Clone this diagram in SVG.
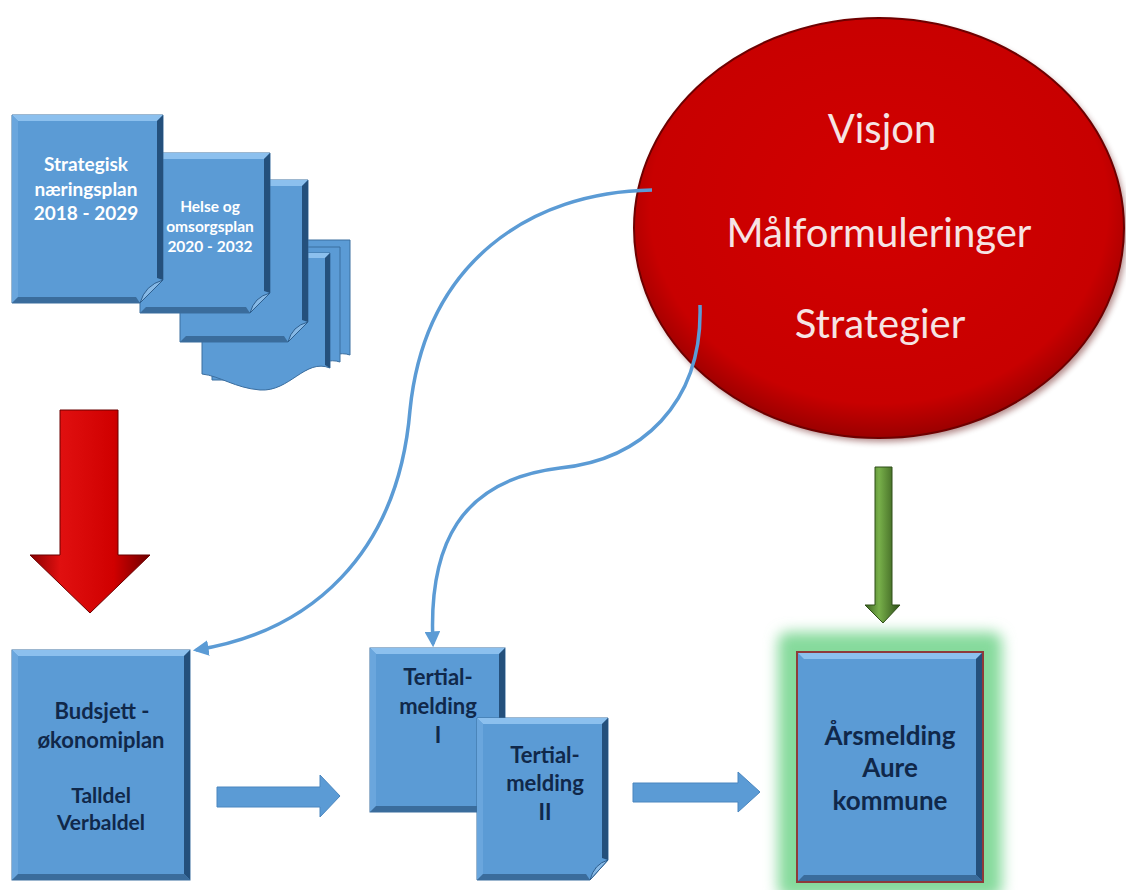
<svg xmlns="http://www.w3.org/2000/svg" width="1126" height="890" viewBox="0 0 1126 890">
<defs>
<style>
.base{fill:#5b9bd5;stroke:#3b6e9f;stroke-width:1}
.bt{fill:#8cc0ee}
.bl{fill:#6aa6dd}
.br{fill:#24507c}
.bb{fill:#3a6c9c}
.flap{fill:#87b9e6;stroke:#2d5e8e;stroke-width:1}
.wt{font-family:Lato,"Open Sans","Liberation Sans",sans-serif;font-weight:bold;fill:#ffffff;text-anchor:middle}
.dk{font-family:Lato,"Open Sans","Liberation Sans",sans-serif;font-weight:bold;fill:#10284a;text-anchor:middle}
.el{font-family:Lato,"Open Sans","Liberation Sans",sans-serif;fill:#f6e4e4;text-anchor:middle}
.curve{fill:none;stroke:#5b9bd5;stroke-width:3.5}
.blk{fill:#5b9bd5;stroke:#4a86bf;stroke-width:1}
</style>
<linearGradient id="redg" x1="0" y1="0" x2="1" y2="0">
<stop offset="0" stop-color="#8a0000"/>
<stop offset="0.25" stop-color="#e01010"/>
<stop offset="0.7" stop-color="#d00000"/>
<stop offset="1" stop-color="#700000"/>
</linearGradient>
<linearGradient id="greeng" x1="0" y1="0" x2="1" y2="0">
<stop offset="0" stop-color="#3a6020"/>
<stop offset="0.4" stop-color="#78b04a"/>
<stop offset="1" stop-color="#2f5018"/>
</linearGradient>
<radialGradient id="ellg" cx="0.5" cy="0.45" r="0.55">
<stop offset="0" stop-color="#d20000"/>
<stop offset="0.85" stop-color="#c80000"/>
<stop offset="1" stop-color="#9a0000"/>
</radialGradient>
<filter id="glow" x="-30%" y="-30%" width="160%" height="160%">
<feGaussianBlur stdDeviation="7"/>
</filter>
<filter id="shadow" x="-10%" y="-10%" width="120%" height="120%">
<feGaussianBlur stdDeviation="3"/>
</filter>
<marker id="ah" viewBox="0 0 10 10" refX="8" refY="5" markerWidth="4.5" markerHeight="4.5" orient="auto" markerUnits="strokeWidth">
<path d="M0,0 L10,5 L0,10 Z" fill="#5b9bd5"/>
</marker>
</defs>
<rect width="1126" height="890" fill="#ffffff"/>

<!-- Plan documents -->
<g id="doc-stack">
<path d="M222,240 H350 V355 C330,348 310,372 285,372 L222,372 Z" class="base"/>
<path d="M212,247 H340 V362 C320,355 300,380 275,380 L212,380 Z" class="base"/>
<path d="M202,253 H330 V368 C305,358 290,392 260,390 C235,388 220,376 202,374 Z" class="base"/>
<polygon points="202,253 330,253 325,258 207,258" class="bt"/>
<polygon points="330,253 330,368 325,365 325,258" class="br"/>
</g>

<g id="doc3">
<path d="M180,180 H308 V322 L288,342 H180 Z" class="base"/>
<polygon points="180,180 308,180 302,186 186,186" class="bt"/>
<polygon points="308,180 308,322 302,320 302,186" class="br"/>
<polygon points="180,342 288,342 284,336 186,336" class="bb"/>
<path d="M308,322 L288,342 Q292,326 308,322 Z" class="flap"/>
</g>

<g id="doc-helse">
<path d="M140,153 H270 V293 L250,313 H140 Z" class="base"/>
<polygon points="140,153 270,153 264,159 146,159" class="bt"/>
<polygon points="270,153 270,293 264,291 264,159" class="br"/>
<polygon points="140,313 250,313 246,307 146,307" class="bb"/>
<path d="M270,293 L250,313 Q254,297 270,293 Z" class="flap"/>
<text class="wt" font-size="15.5" x="210" y="212">Helse og</text>
<text class="wt" font-size="15.5" x="210" y="232">omsorgsplan</text>
<text class="wt" font-size="15.5" x="210" y="252">2020 - 2032</text>
</g>

<g id="doc-strategisk">
<path d="M12,115 H163 V280 L140,303 H12 Z" class="base"/>
<polygon points="12,115 163,115 157,121 18,121" class="bt"/>
<polygon points="12,115 18,121 18,297 12,303" class="bl"/>
<polygon points="163,115 163,280 157,278 157,121" class="br"/>
<polygon points="12,303 140,303 136,297 18,297" class="bb"/>
<path d="M163,280 L140,303 Q145,285 163,280 Z" class="flap"/>
<text class="wt" font-size="19" x="86" y="171">Strategisk</text>
<text class="wt" font-size="19" x="86" y="196">næringsplan</text>
<text class="wt" font-size="19" x="86" y="220">2018 - 2029</text>
</g>

<!-- Vision ellipse -->
<g id="visjon">
<ellipse cx="882" cy="232" rx="245" ry="210" fill="#5a0000" opacity="0.45" filter="url(#shadow)"/>
<ellipse cx="879" cy="228" rx="245" ry="210" fill="url(#ellg)" stroke="#6e0000" stroke-width="2"/>
<text class="el" font-size="40" x="882" y="143">Visjon</text>
<text class="el" font-size="40" x="879" y="247">Målformuleringer</text>
<text class="el" font-size="40" x="880" y="338">Strategier</text>
</g>

<!-- Budsjett box -->
<g id="budsjett">
<rect x="12" y="650" width="178" height="230" class="base"/>
<polygon points="12,650 190,650 184,656 18,656" class="bt"/>
<polygon points="12,650 18,656 18,874 12,880" class="bl"/>
<polygon points="190,650 190,880 184,874 184,656" class="br"/>
<polygon points="12,880 190,880 184,874 18,874" class="bb"/>
<text class="dk" font-size="22" x="102" y="719">Budsjett -</text>
<text class="dk" font-size="22" x="101" y="748">økonomiplan</text>
<text class="dk" font-size="21" x="101" y="803">Talldel</text>
<text class="dk" font-size="21" x="101" y="830">Verbaldel</text>
</g>

<!-- Tertialmelding I -->
<g id="tertial-1">
<rect x="370" y="648" width="135" height="164" class="base"/>
<polygon points="370,648 505,648 499,654 376,654" class="bt"/>
<polygon points="370,648 376,654 376,806 370,812" class="bl"/>
<polygon points="505,648 505,812 499,806 499,654" class="br"/>
<polygon points="370,812 505,812 499,806 376,806" class="bb"/>
<text class="dk" font-size="22" x="438" y="685">Tertial-</text>
<text class="dk" font-size="22" x="438" y="714">melding</text>
<text class="dk" font-size="22" x="438" y="743">I</text>
</g>

<!-- Tertialmelding II -->
<g id="tertial-2">
<path d="M477,718 H608 V860 L590,880 H477 Z" class="base"/>
<polygon points="477,718 608,718 602,724 483,724" class="bt"/>
<polygon points="477,718 483,724 483,874 477,880" class="bl"/>
<polygon points="608,718 608,860 602,858 602,724" class="br"/>
<polygon points="477,880 590,880 586,874 483,874" class="bb"/>
<path d="M608,860 L590,880 Q594,864 608,860 Z" class="flap"/>
<text class="dk" font-size="22" x="545" y="763">Tertial-</text>
<text class="dk" font-size="22" x="545" y="791">melding</text>
<text class="dk" font-size="22" x="545" y="820">II</text>
</g>

<!-- Årsmelding -->
<g id="arsmelding">
<rect x="778" y="632" width="224" height="266" rx="10" fill="#86da9c" filter="url(#glow)"/>
<rect x="797" y="652" width="186" height="230" fill="#5b9bd5" stroke="#8e3a3a" stroke-width="2"/>
<polygon points="798,653 982,653 976,659 804,659" class="bt"/>
<polygon points="982,653 982,881 976,875 976,659" class="br"/>
<polygon points="798,881 982,881 976,875 804,875" class="bb"/>
<text class="dk" font-size="26" x="890" y="745">Årsmelding</text>
<text class="dk" font-size="26" x="890" y="777">Aure</text>
<text class="dk" font-size="26" x="890" y="810">kommune</text>
</g>

<!-- Connectors -->
<g id="connectors">
<path d="M60,410 H118 V555 H150 L90,613 L30,555 H60 Z" fill="url(#redg)" stroke="#6a0000" stroke-width="1"/>
<path d="M875,467 H892 V605 H900 L883,623 L865,605 H875 Z" fill="url(#greeng)" stroke="#2f4f18" stroke-width="1"/>
<path d="M217,787 H320 V775 L340,796 L320,817 V807 H217 Z" class="blk"/>
<path d="M633,783 H738 V772 L760,792 L738,812 V802 H633 Z" class="blk"/>
<path d="M652,190 C530,192 425,262 410,410 C398,555 310,632 196,650" class="curve" marker-end="url(#ah)"/>
<path d="M700,305 C703,405 640,460 560,468 C460,480 428,545 433,644" class="curve" marker-end="url(#ah)"/>
</g>
</svg>
